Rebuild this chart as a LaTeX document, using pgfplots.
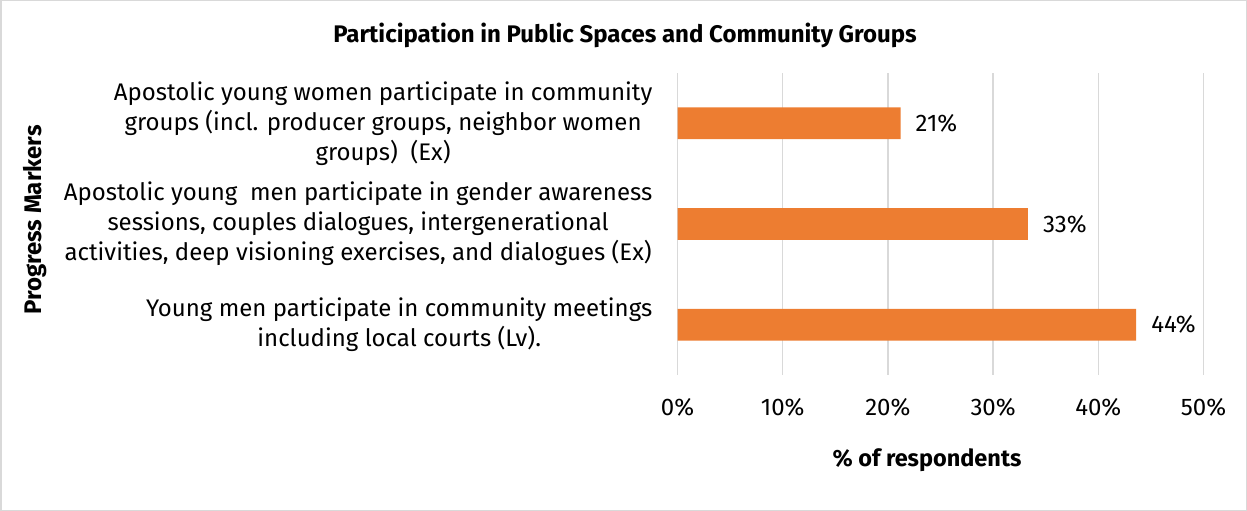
\documentclass[border=0pt]{standalone}
\usepackage{pgfplots}
\pgfplotsset{compat=1.18}
\usepackage{fontspec}
\setmainfont{Fira Sans}
\definecolor{barorange}{HTML}{ED7D31}
\definecolor{gridgray}{HTML}{D9D9D9}
\begin{document}
\begin{tikzpicture}
\useasboundingbox (0,0) rectangle (1247bp,511bp);
\draw[gridgray, line width=1.5bp] (0.75bp,0.75bp) rectangle (1246.25bp,510.25bp);
\begin{axis}[
  at={(677.5bp,136bp)}, anchor=south west,
  scale only axis, width=526bp, height=302bp,
  xbar, bar width=31.7bp,
  xmin=0, xmax=50, ymin=-0.5, ymax=2.5,
  y dir=reverse,
  xtick={0,10,20,30,40,50},
  ytick={0,1,2},
  yticklabels={
    {Apostolic young women participate in community\\groups (incl. producer groups, neighbor women\\groups)\ \ (Ex)},
    {Apostolic young\ \ men participate in gender awareness\\sessions, couples dialogues, intergenerational\\activities, deep visioning exercises, and dialogues (Ex)},
    {Young men participate in community meetings\\including local courts (Lv).}},
  /pgf/number format/assume math mode=true,
  xticklabel={\pgfmathprintnumber{\tick}\%},
  axis line style={draw=none},
  major tick length=0pt,
  xmajorgrids, grid style={gridgray, line width=1.5bp},
  every tick label/.style={font=\fontsize{24bp}{30bp}\selectfont, text=black},
  xticklabel style={anchor=center, yshift=-32bp},
  yticklabel style={anchor=east, align=center, inner sep=0pt, xshift=-25bp},
  point meta=x,
  nodes near coords={\pgfmathprintnumber[fixed,precision=0]{\pgfplotspointmeta}\%},
  nodes near coords style={font=\fontsize{24bp}{30bp}\selectfont, text=black, anchor=west, inner sep=0pt, xshift=15bp},
]
\addplot[fill=barorange, draw=none] coordinates {(21.2,0) (33.3,1) (43.6,2)};
\end{axis}
\node[font=\bfseries\fontsize{24bp}{28bp}\selectfont] at (625bp,476bp) {Participation in Public Spaces and Community Groups};
\node[font=\bfseries\fontsize{23.5bp}{26bp}\selectfont] at (927bp,51bp) {\% of respondents};
\node[font=\bfseries\fontsize{24bp}{26bp}\selectfont, rotate=90] at (35bp,291bp) {Progress Markers};
\end{tikzpicture}
\end{document}
